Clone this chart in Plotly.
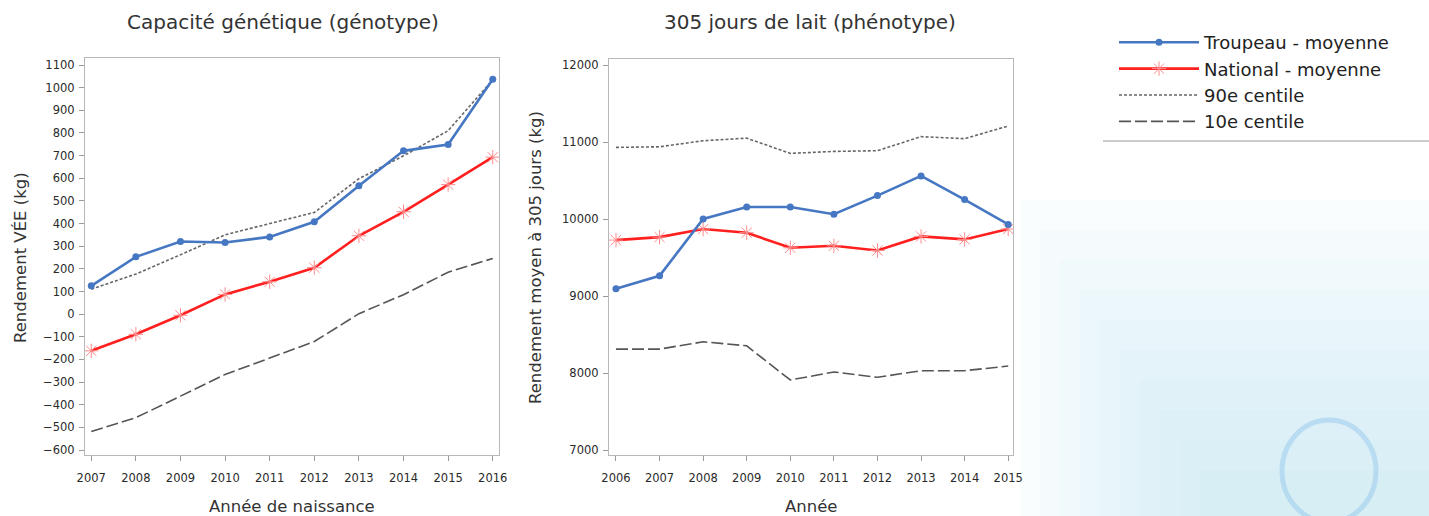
import plotly.graph_objects as go

# ---------------- data ----------------
years_geno = [2007, 2008, 2009, 2010, 2011, 2012, 2013, 2014, 2015, 2016]
geno_troupeau = [125, 253, 321, 316, 341, 408, 567, 721, 749, 1037]
geno_national = [-162, -89, -5, 87, 143, 205, 346, 452, 572, 693]
geno_p90 = [110, 177, 262, 350, 400, 449, 598, 699, 810, 1035]
geno_p10 = [-518, -457, -362, -266, -194, -121, 2, 86, 185, 246]

years_pheno = [2006, 2007, 2008, 2009, 2010, 2011, 2012, 2013, 2014, 2015]
pheno_troupeau = [9095, 9262, 10000, 10155, 10155, 10062, 10304, 10560, 10252, 9930]
pheno_national = [9726, 9765, 9870, 9822, 9626, 9652, 9591, 9774, 9735, 9870]
pheno_p90 = [10930, 10938, 11016, 11050, 10852, 10878, 10887, 11070, 11043, 11208]
pheno_p10 = [8310, 8310, 8405, 8353, 7909, 8013, 7944, 8030, 8030, 8090]

geno_yticks = list(range(-600, 1101, 100))
pheno_yticks = [7000, 8000, 9000, 10000, 11000, 12000]

names = ["Troupeau - moyenne", "National - moyenne", "90e centile", "10e centile"]

W, H = 1429, 516

BLUE = "#4677c2"
RED = "#ff1f1f"
RED_MARK = "#ff8c8c"
GREY_DOT = "#666666"
GREY_DASH = "#555555"
FONT = "DejaVu Sans, Verdana, sans-serif"


def px_x(p):
    return p / W


def px_y(p):
    return (H - p) / H


fig = go.Figure()


def add_series(x, ys, xa, ya, legend):
    t, n, p90, p10 = ys
    fig.add_trace(go.Scatter(
        x=x, y=p90, xaxis=xa, yaxis=ya, mode="lines", name=names[2],
        line=dict(color=GREY_DOT, width=1.6, dash="3px,2px"),
        showlegend=legend, legendrank=3))
    fig.add_trace(go.Scatter(
        x=x, y=p10, xaxis=xa, yaxis=ya, mode="lines", name=names[3],
        line=dict(color=GREY_DASH, width=1.6, dash="12px,4px"),
        showlegend=legend, legendrank=4))
    fig.add_trace(go.Scatter(
        x=x, y=n, xaxis=xa, yaxis=ya, mode="lines+markers", name=names[1],
        line=dict(color=RED, width=2.6),
        marker=dict(symbol="asterisk-open", size=12, color=RED_MARK,
                    line=dict(color=RED_MARK, width=1)),
        showlegend=legend, legendrank=2))
    fig.add_trace(go.Scatter(
        x=x, y=t, xaxis=xa, yaxis=ya, mode="lines+markers", name=names[0],
        line=dict(color=BLUE, width=2.6),
        marker=dict(symbol="circle", size=7, color=BLUE),
        showlegend=legend, legendrank=1))


add_series(years_geno, (geno_troupeau, geno_national, geno_p90, geno_p10), "x", "y", True)
add_series(years_pheno, (pheno_troupeau, pheno_national, pheno_p90, pheno_p10), "x2", "y2", False)

axis_common = dict(
    automargin=False,
    showline=True, linecolor="#b8b8b8", linewidth=1.2, mirror=True,
    ticks="outside", ticklen=5, tickcolor="#9a9a9a", tickwidth=1,
    showgrid=False, zeroline=False, tickformat="d",
    tickfont=dict(family=FONT, size=11.5, color="#2a2a2a"),
)
xaxis_extra = dict(ticklabelstandoff=7)
yaxis_extra = dict(ticklabelstandoff=2)

# background decoration (light blue wash, lower right)
shapes = []
for i in range(10):
    shapes.append(dict(
        type="rect", xref="paper", yref="paper", layer="below",
        x0=px_x(1020 + i * 20), x1=1, y0=0, y1=px_y(200 + i * 30),
        fillcolor="#bfe0f5", opacity=0.07, line=dict(width=0)))
shapes.append(dict(
    type="circle", xref="paper", yref="paper", layer="below",
    x0=px_x(1282), x1=px_x(1376), y0=px_y(522), y1=px_y(420),
    line=dict(color="#8fc6ee", width=5), opacity=0.45))
# legend separator line
shapes.append(dict(
    type="line", xref="paper", yref="paper",
    x0=px_x(1103), x1=1, y0=px_y(141), y1=px_y(141),
    line=dict(color="#9a9a9a", width=1.2)))

title_font = dict(family=FONT, size=20, color="#333333")
label_font = dict(family=FONT, size=16.5, color="#333333")


def ann(text, x, y, font, angle=0):
    return dict(text=text, x=px_x(x), y=px_y(y), xref="paper", yref="paper",
                xanchor="center", yanchor="middle", textangle=angle,
                showarrow=False, font=font)


annotations = [
    ann("Capacité génétique (génotype)", 283, 22, title_font),
    ann("305 jours de lait (phénotype)", 810, 22, title_font),
    ann("Rendement VÉE (kg)", 20, 258, label_font, -90),
    ann("Année de naissance", 292, 506, label_font),
    ann("Rendement moyen à 305 jours (kg)", 535, 258, label_font, -90),
    ann("Année", 811, 506, label_font),
]

fig.update_layout(
    template="none",
    width=W, height=H,
    margin=dict(l=0, r=0, t=0, b=0, pad=0),
    paper_bgcolor="white", plot_bgcolor="white",
    xaxis=dict(domain=[px_x(85), px_x(499)], anchor="y", range=[2006.86, 2016.14],
               tickvals=years_geno, **axis_common, **xaxis_extra),
    yaxis=dict(domain=[px_y(455), px_y(58)], anchor="x", range=[-622, 1131],
               tickvals=geno_yticks, **axis_common, **yaxis_extra),
    xaxis2=dict(domain=[px_x(609), px_x(1013)], anchor="y2", range=[2005.84, 2015.11],
                tickvals=years_pheno, **axis_common, **xaxis_extra),
    yaxis2=dict(domain=[px_y(455), px_y(59)], anchor="x2", range=[6935, 12078],
                tickvals=pheno_yticks, **axis_common, **yaxis_extra),
    legend=dict(x=px_x(1114), y=px_y(24), xanchor="left", yanchor="top",
                bgcolor="rgba(0,0,0,0)", itemwidth=80, tracegroupgap=0,
                font=dict(family=FONT, size=18, color="#222222")),
    shapes=shapes,
    annotations=annotations,
)

fig.write_html(
    "out.html",
    config={"displayModeBar": False},
    post_script="document.body.style.margin='0px';document.body.style.overflow='hidden';",
)
